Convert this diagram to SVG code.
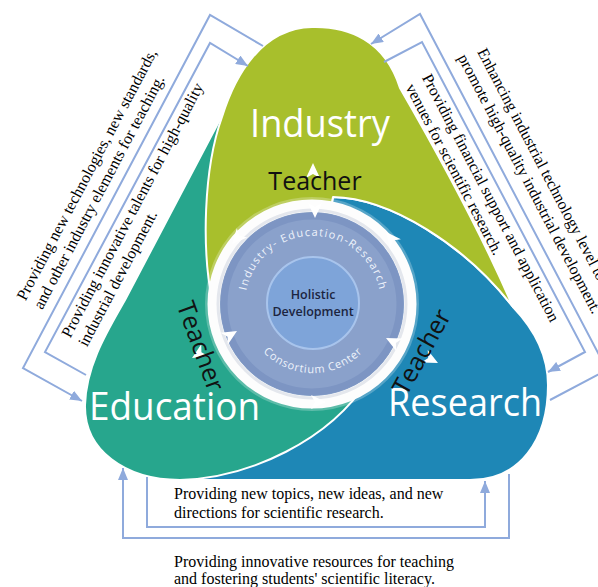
<svg xmlns="http://www.w3.org/2000/svg" width="598" height="587" viewBox="0 0 598 587">
<style>
.conn{fill:none;stroke:#8faadc;stroke-width:2;stroke-linejoin:miter;}
.lab{font-family:"Liberation Serif","Times New Roman",serif;font-size:16px;fill:#000;}
.big{font-family:"Open Sans","Noto Sans",sans-serif;font-size:39px;fill:#fff;}
.tch{font-family:"Open Sans","Noto Sans",sans-serif;font-size:25px;font-weight:500;fill:#111;}
.arc{font-family:"Open Sans","Noto Sans",sans-serif;font-size:11px;fill:#eef3fb;}
.ctr{font-family:"Open Sans","Noto Sans",sans-serif;font-size:12.5px;font-weight:600;fill:#1c2540;}
.blob{stroke:#fff;stroke-width:2;stroke-linejoin:round;}
.wh{fill:#fff;}
</style>
<defs>
<marker id="arr" viewBox="0 0 12 10" refX="12" refY="5" markerWidth="12" markerHeight="10" markerUnits="userSpaceOnUse" orient="auto"><path d="M0,0 L12,5 L0,10 Z" fill="#8faadc"/></marker>
<path id="hd" d="M0,0 L-15,-7 L-11,0 L-15,7 Z"/>
<path id="topArc" d="M246,292.2 A68,68 0 0 1 380,292.2"/>
<path id="botArc" d="M248.1,327.6 A69,69 0 0 0 377.9,327.6"/>
</defs>
<rect width="598" height="587" fill="#fff"/>

<g id="research">
<path class="blob" fill="#1e87b6" d="M333,197 C390,198 465,245 513,307 C535,330 548,355 548,385 C548,440 520,480 470,480 L180,480 L312,304 Z"/>
<text class="big" x="388" y="416" textLength="154" lengthAdjust="spacingAndGlyphs">Research</text>
</g>
<g id="education">
<path class="blob" fill="#27a68d" d="M226,108 L125,300 C108,330 86,365 85,405 C84,450 125,480 180,480 C250,478 330,440 368,380 L312,304 Z"/>
<text class="big" x="89" y="420" textLength="171" lengthAdjust="spacingAndGlyphs">Education</text>
</g>
<g id="industry">
<path class="blob" fill="#a8bf2c" d="M212,300 C202,250 203,170 222,117 C235,75 262,28 312,27 C348,26 385,40 400,88 C430,140 480,230 513,307 C465,245 390,198 333,197 L312,304 Z"/>
<text class="big" x="250" y="137" textLength="140" lengthAdjust="spacingAndGlyphs">Industry</text>
</g>

<g id="center">
<circle cx="312" cy="304" r="107" fill="#fff" opacity="0.25"/>
<circle cx="312" cy="304" r="98" fill="none" stroke="#fdfdfd" stroke-width="13"/>
<circle cx="312" cy="304" r="94" fill="none" stroke="#e4e7ed" stroke-width="3"/>
<circle cx="312" cy="304" r="92" fill="#8aa1cb"/>
<circle cx="312" cy="304" r="88" fill="none" stroke="#7d95c3" stroke-width="7"/>
<circle cx="313" cy="303" r="46" fill="#7ea4d9" stroke="#a8c4ec" stroke-width="2"/>
<text class="arc" letter-spacing="1.3"><textPath href="#topArc" startOffset="50%" text-anchor="middle">Industry- Education-Research</textPath></text>
<text class="arc" letter-spacing="0.8"><textPath href="#botArc" startOffset="50%" text-anchor="middle">Consortium Center</textPath></text>
<text class="ctr" x="313" y="299" text-anchor="middle">Holistic</text>
<text class="ctr" x="313" y="316" text-anchor="middle">Development</text>
<use href="#hd" class="wh" transform="translate(232,244) rotate(132)"/>
<use href="#hd" class="wh" transform="translate(386,232) rotate(231)"/>
<use href="#hd" class="wh" transform="translate(326,402) rotate(0)"/>
</g>

<g id="teacher-top">
<use href="#hd" class="wh" transform="translate(313,163) rotate(-90)"/>
<use href="#hd" class="wh" transform="translate(315,218) rotate(90)"/>
<text class="tch" x="315" y="190" text-anchor="middle">Teacher</text>
</g>
<g id="teacher-left">
<use href="#hd" class="wh" transform="translate(192,358) rotate(149)"/>
<use href="#hd" class="wh" transform="translate(237,331) rotate(-31)"/>
<text class="tch" text-anchor="middle" transform="translate(192.5,349) rotate(70)">Teacher</text>
</g>
<g id="teacher-right">
<use href="#hd" class="wh" transform="translate(386,338) rotate(206.6)"/>
<use href="#hd" class="wh" transform="translate(438,363) rotate(26.6)"/>
<text class="tch" text-anchor="middle" transform="translate(429,356) rotate(-61)">Teacher</text>
</g>

<g id="connectors">
<path class="conn" d="M263,46 L210,15 L23,368 L82,401" marker-end="url(#arr)"/>
<path class="conn" d="M86,375 L45,352 L210,43 L248,66" marker-end="url(#arr)"/>
<path class="conn" d="M384,62 L422,42 L585,352 L548,372" marker-end="url(#arr)"/>
<path class="conn" d="M550,400 L607,370 L420,14 L371,44" marker-end="url(#arr)"/>
<path class="conn" d="M147,477 V527 H485 V481" marker-end="url(#arr)"/>
<path class="conn" d="M509,474 V538 H123 V468" marker-end="url(#arr)"/>
</g>

<g id="labels-left" transform="translate(23,368) rotate(-62.1)">
<text class="lab" x="60" y="-29">Providing new technologies, new standards,</text>
<text class="lab" x="60" y="-10">and other industry elements for teaching.</text>
<text class="lab" x="48" y="28">Providing innovative talents for high-quality</text>
<text class="lab" x="48" y="47">industrial development.</text>
</g>
<g id="labels-right" transform="translate(420,14) rotate(62.3)">
<text class="lab" x="60" y="-33">Enhancing industrial technology level to</text>
<text class="lab" x="56" y="-13">promote high-quality industrial development.</text>
<text class="lab" x="57" y="28">Providing financial support and application</text>
<text class="lab" x="58" y="47">venues for scientific research.</text>
</g>
<g id="labels-bottom">
<text class="lab" x="174" y="499">Providing new topics, new ideas, and new</text>
<text class="lab" x="174" y="518">directions for scientific research.</text>
<text class="lab" x="174" y="567">Providing innovative resources for teaching</text>
<text class="lab" x="174" y="584">and fostering students' scientific literacy.</text>
</g>
</svg>
